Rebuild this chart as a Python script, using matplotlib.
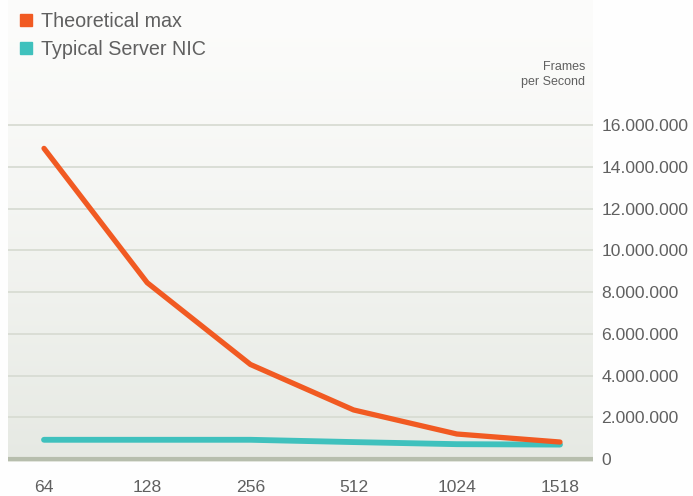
import numpy as np
import matplotlib.pyplot as plt
from matplotlib.ticker import FuncFormatter
from matplotlib.lines import Line2D

frame_sizes = ['64', '128', '256', '512', '1024', '1518']
theoretical_max = [14880952, 8445946, 4528986, 2349624, 1197318, 812744]
server_nic = [920000, 920000, 920000, 810000, 710000, 690000]
y_ticks = [0, 2000000, 4000000, 6000000, 8000000, 10000000, 12000000, 14000000, 16000000]

plt.rcParams['font.family'] = ['Liberation Sans', 'DejaVu Sans']

fig = plt.figure(figsize=(6.93, 4.96), dpi=100)
fig.patch.set_facecolor('#fefefe')
ax = fig.add_axes([8 / 693, (496 - 462) / 496, 585 / 693, 462 / 496])

ymin, ymax = -0.144e6, 21.99e6
xmin, xmax = -0.349, 5.32
ax.set_xlim(xmin, xmax)
ax.set_ylim(ymin, ymax)

# soft vertical gradient behind the plot
grad = np.linspace(0, 1, 256).reshape(-1, 1)
top = np.array([0.988, 0.988, 0.984])
bot = np.array([0.902, 0.914, 0.890])
img = top + (bot - top) * grad[..., None] ** 1.3
ax.imshow(img, extent=[xmin, xmax, ymin, ymax], aspect='auto', zorder=0, origin='upper')

for t in y_ticks[1:]:
    ax.axhline(t, color='#d8dcd3', lw=1.3, zorder=1)
ax.axhline(0, color='#b7bead', lw=3, zorder=1)

x = np.arange(len(frame_sizes))
ax.plot(x, server_nic, color='#3fc1bd', lw=4.2, solid_capstyle='round', zorder=3)
ax.plot(x, theoretical_max, color='#f15a22', lw=3.8, solid_capstyle='round', zorder=4)

for s in ax.spines.values():
    s.set_visible(False)

ax.set_xticks(x)
ax.set_xticklabels(frame_sizes)
ax.set_yticks(y_ticks)
ax.yaxis.set_major_formatter(FuncFormatter(lambda v, p: f'{int(v):,}'.replace(',', '.')))
ax.yaxis.tick_right()
ax.tick_params(axis='both', length=0, labelsize=12.6, labelcolor='#606060')
ax.tick_params(axis='y', pad=6)
ax.tick_params(axis='x', pad=13)

fig.text(585 / 693, 1 - 67 / 496, 'Frames', ha='right', va='center', fontsize=9, color='#606060')
fig.text(585 / 693, 1 - 82 / 496, 'per Second', ha='right', va='center', fontsize=9, color='#606060')

handles = [Line2D([], [], marker='s', ls='none', color='#f15a22', markersize=8),
           Line2D([], [], marker='s', ls='none', color='#3fc1bd', markersize=8)]
fig.legend(handles, ['Theoretical max', 'Typical Server NIC'], loc='upper left',
           bbox_to_anchor=(-0.003, 1.012), frameon=False, fontsize=14.2, labelcolor='#606060',
           handletextpad=0.3, labelspacing=0.45, handlelength=1.0)

fig.savefig('out.png', dpi=100, facecolor=fig.get_facecolor())
